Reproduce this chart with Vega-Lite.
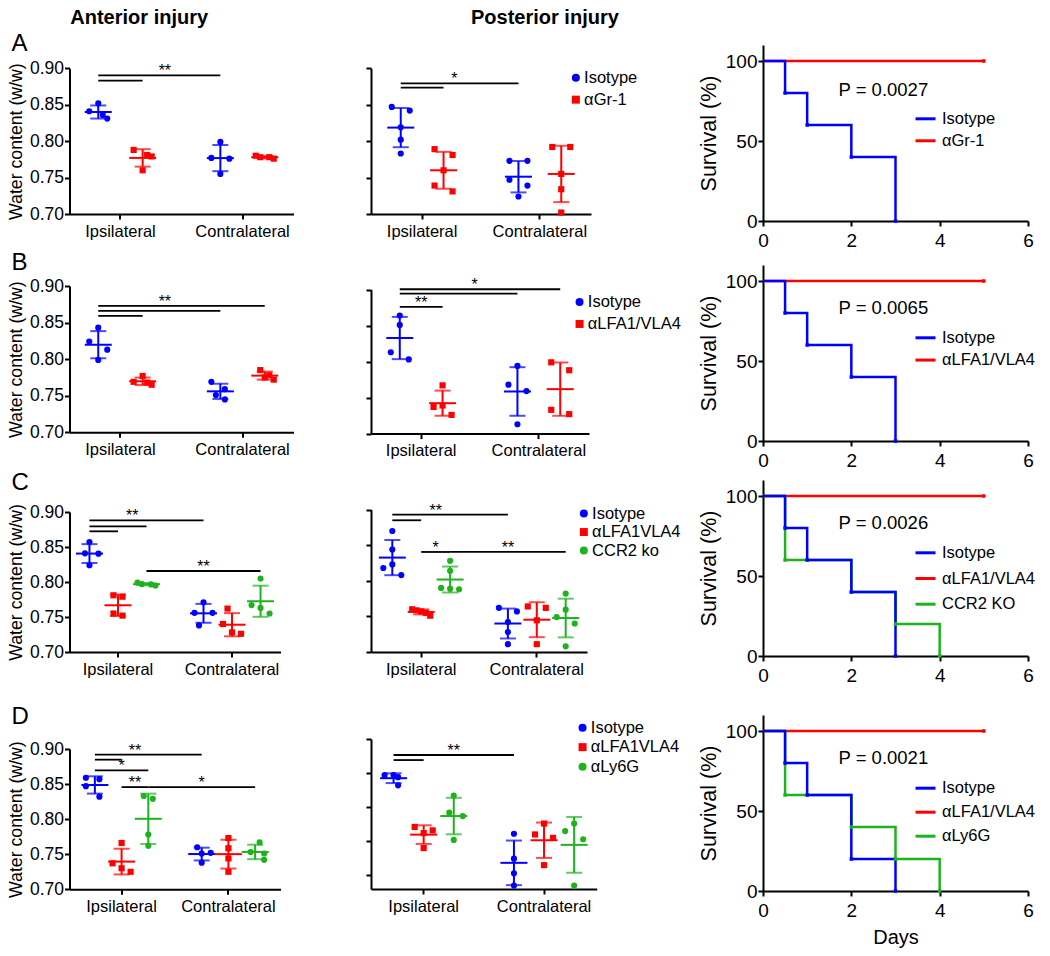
{
"$schema": "https://vega.github.io/schema/vega-lite/v6.json",
"padding": {"left": 6.5, "top": 8, "right": 5, "bottom": 3},
"config": {"font": "Liberation Sans", "view": {"stroke": null},
 "axis": {"domainColor": "black", "domainWidth": 2, "tickColor": "black", "tickWidth": 2, "tickSize": 5, "labelColor": "black", "titleColor": "black", "grid": false, "titleFontWeight": "normal"},
 "legend": {"labelColor": "black"}, "title": {"color": "black"}},
"resolve": {"scale": {"color": "independent", "shape": "independent"}, "legend": {"color": "independent", "shape": "independent"}},
"datasets": {
"pA1": [
{"c":"Ipsilateral|Isotype","g":"Isotype","r":3,"v":0.852},{"c":"Ipsilateral|Isotype","g":"Isotype","r":1,"v":0.841},{"c":"Ipsilateral|Isotype","g":"Isotype","r":4,"v":0.836},{"c":"Ipsilateral|Isotype","g":"Isotype","r":5,"v":0.831},
{"c":"Ipsilateral|αGr-1","g":"αGr-1","r":1,"v":0.788},{"c":"Ipsilateral|αGr-1","g":"αGr-1","r":4,"v":0.781},{"c":"Ipsilateral|αGr-1","g":"αGr-1","r":5,"v":0.779},{"c":"Ipsilateral|αGr-1","g":"αGr-1","r":3,"v":0.760},
{"c":"Contralateral|Isotype","g":"Isotype","r":3,"v":0.799},{"c":"Contralateral|Isotype","g":"Isotype","r":1,"v":0.777},{"c":"Contralateral|Isotype","g":"Isotype","r":5,"v":0.776},{"c":"Contralateral|Isotype","g":"Isotype","r":3,"v":0.755},
{"c":"Contralateral|αGr-1","g":"αGr-1","r":1,"v":0.780},{"c":"Contralateral|αGr-1","g":"αGr-1","r":2,"v":0.778},{"c":"Contralateral|αGr-1","g":"αGr-1","r":4,"v":0.778},{"c":"Contralateral|αGr-1","g":"αGr-1","r":5,"v":0.776}],
"gA1": [
{"from":"Ipsilateral|Isotype","to":"Ipsilateral|αGr-1","lvl":0.883,"label":"","at":"Ipsilateral|Isotype"},
{"from":"Ipsilateral|Isotype","to":"Contralateral|Isotype","lvl":0.8904,"label":"**","at":"·6"}],
"pA2": [
{"c":"Ipsilateral|Isotype","g":"Isotype","r":1,"v":0.847},{"c":"Ipsilateral|Isotype","g":"Isotype","r":5,"v":0.842},{"c":"Ipsilateral|Isotype","g":"Isotype","r":3,"v":0.819},{"c":"Ipsilateral|Isotype","g":"Isotype","r":3,"v":0.802},{"c":"Ipsilateral|Isotype","g":"Isotype","r":3,"v":0.783},
{"c":"Ipsilateral|αGr-1","g":"αGr-1","r":1,"v":0.789},{"c":"Ipsilateral|αGr-1","g":"αGr-1","r":5,"v":0.781},{"c":"Ipsilateral|αGr-1","g":"αGr-1","r":3,"v":0.760},{"c":"Ipsilateral|αGr-1","g":"αGr-1","r":1,"v":0.739},{"c":"Ipsilateral|αGr-1","g":"αGr-1","r":5,"v":0.731},
{"c":"Contralateral|Isotype","g":"Isotype","r":1,"v":0.773},{"c":"Contralateral|Isotype","g":"Isotype","r":5,"v":0.773},{"c":"Contralateral|Isotype","g":"Isotype","r":1,"v":0.747},{"c":"Contralateral|Isotype","g":"Isotype","r":5,"v":0.739},{"c":"Contralateral|Isotype","g":"Isotype","r":3,"v":0.724},
{"c":"Contralateral|αGr-1","g":"αGr-1","r":1,"v":0.792},{"c":"Contralateral|αGr-1","g":"αGr-1","r":5,"v":0.792},{"c":"Contralateral|αGr-1","g":"αGr-1","r":3,"v":0.755},{"c":"Contralateral|αGr-1","g":"αGr-1","r":3,"v":0.734},{"c":"Contralateral|αGr-1","g":"αGr-1","r":3,"v":0.702}],
"gA2": [
{"from":"Ipsilateral|Isotype","to":"Ipsilateral|αGr-1","lvl":0.8735,"label":"","at":"Ipsilateral|Isotype"},
{"from":"Ipsilateral|Isotype","to":"Contralateral|Isotype","lvl":0.8794,"label":"*","at":"·5"}],
"pB1": [
{"c":"Ipsilateral|Isotype","g":"Isotype","r":3,"v":0.843},{"c":"Ipsilateral|Isotype","g":"Isotype","r":1,"v":0.824},{"c":"Ipsilateral|Isotype","g":"Isotype","r":5,"v":0.813},{"c":"Ipsilateral|Isotype","g":"Isotype","r":3,"v":0.799},
{"c":"Ipsilateral|αLFA1/VLA4","g":"αLFA1/VLA4","r":3,"v":0.777},{"c":"Ipsilateral|αLFA1/VLA4","g":"αLFA1/VLA4","r":1,"v":0.769},{"c":"Ipsilateral|αLFA1/VLA4","g":"αLFA1/VLA4","r":4,"v":0.768},{"c":"Ipsilateral|αLFA1/VLA4","g":"αLFA1/VLA4","r":5,"v":0.765},
{"c":"Contralateral|Isotype","g":"Isotype","r":1,"v":0.769},{"c":"Contralateral|Isotype","g":"Isotype","r":4,"v":0.759},{"c":"Contralateral|Isotype","g":"Isotype","r":2,"v":0.751},{"c":"Contralateral|Isotype","g":"Isotype","r":4,"v":0.745},
{"c":"Contralateral|αLFA1/VLA4","g":"αLFA1/VLA4","r":2,"v":0.785},{"c":"Contralateral|αLFA1/VLA4","g":"αLFA1/VLA4","r":4,"v":0.778},{"c":"Contralateral|αLFA1/VLA4","g":"αLFA1/VLA4","r":3,"v":0.775},{"c":"Contralateral|αLFA1/VLA4","g":"αLFA1/VLA4","r":5,"v":0.772}],
"gB1": [
{"from":"Ipsilateral|Isotype","to":"Ipsilateral|αLFA1/VLA4","lvl":0.8591,"label":"","at":"Ipsilateral|Isotype"},
{"from":"Ipsilateral|Isotype","to":"Contralateral|Isotype","lvl":0.8659,"label":"","at":"Ipsilateral|Isotype"},
{"from":"Ipsilateral|Isotype","to":"Contralateral|αLFA1/VLA4","lvl":0.8727,"label":"**","at":"·6"}],
"pB2": [
{"c":"Ipsilateral|Isotype","g":"Isotype","r":3,"v":0.864},{"c":"Ipsilateral|Isotype","g":"Isotype","r":3,"v":0.851},{"c":"Ipsilateral|Isotype","g":"Isotype","r":1,"v":0.813},{"c":"Ipsilateral|Isotype","g":"Isotype","r":5,"v":0.803},
{"c":"Ipsilateral|αLFA1/VLA4","g":"αLFA1/VLA4","r":3,"v":0.767},{"c":"Ipsilateral|αLFA1/VLA4","g":"αLFA1/VLA4","r":1,"v":0.737},{"c":"Ipsilateral|αLFA1/VLA4","g":"αLFA1/VLA4","r":3,"v":0.739},{"c":"Ipsilateral|αLFA1/VLA4","g":"αLFA1/VLA4","r":5,"v":0.726},
{"c":"Contralateral|Isotype","g":"Isotype","r":3,"v":0.794},{"c":"Contralateral|Isotype","g":"Isotype","r":1,"v":0.768},{"c":"Contralateral|Isotype","g":"Isotype","r":5,"v":0.759},{"c":"Contralateral|Isotype","g":"Isotype","r":3,"v":0.713},
{"c":"Contralateral|αLFA1/VLA4","g":"αLFA1/VLA4","r":1,"v":0.799},{"c":"Contralateral|αLFA1/VLA4","g":"αLFA1/VLA4","r":5,"v":0.788},{"c":"Contralateral|αLFA1/VLA4","g":"αLFA1/VLA4","r":1,"v":0.733},{"c":"Contralateral|αLFA1/VLA4","g":"αLFA1/VLA4","r":5,"v":0.727}],
"gB2": [
{"from":"Ipsilateral|Isotype","to":"Ipsilateral|αLFA1/VLA4","lvl":0.8759,"label":"**","at":"Ipsilateral"},
{"from":"Ipsilateral|Isotype","to":"Contralateral|Isotype","lvl":0.8944,"label":"","at":"Ipsilateral|Isotype"},
{"from":"Ipsilateral|Isotype","to":"Contralateral|αLFA1/VLA4","lvl":0.9005,"label":"*","at":"·7"}],
"pC1": [
{"c":"Ipsilateral|Isotype","g":"Isotype","r":3,"v":0.857},{"c":"Ipsilateral|Isotype","g":"Isotype","r":2,"v":0.841},{"c":"Ipsilateral|Isotype","g":"Isotype","r":5,"v":0.8405},{"c":"Ipsilateral|Isotype","g":"Isotype","r":3,"v":0.824},
{"c":"Ipsilateral|αLFA1VLA4","g":"αLFA1VLA4","r":2,"v":0.781},{"c":"Ipsilateral|αLFA1VLA4","g":"αLFA1VLA4","r":4,"v":0.779},{"c":"Ipsilateral|αLFA1VLA4","g":"αLFA1VLA4","r":2,"v":0.755},{"c":"Ipsilateral|αLFA1VLA4","g":"αLFA1VLA4","r":4,"v":0.752},
{"c":"Ipsilateral|CCR2 ko","g":"CCR2 ko","r":1,"v":0.799},{"c":"Ipsilateral|CCR2 ko","g":"CCR2 ko","r":2,"v":0.797},{"c":"Ipsilateral|CCR2 ko","g":"CCR2 ko","r":4,"v":0.7965},{"c":"Ipsilateral|CCR2 ko","g":"CCR2 ko","r":5,"v":0.795},
{"c":"Contralateral|Isotype","g":"Isotype","r":3,"v":0.771},{"c":"Contralateral|Isotype","g":"Isotype","r":1,"v":0.756},{"c":"Contralateral|Isotype","g":"Isotype","r":5,"v":0.756},{"c":"Contralateral|Isotype","g":"Isotype","r":2,"v":0.738},
{"c":"Contralateral|αLFA1VLA4","g":"αLFA1VLA4","r":2,"v":0.762},{"c":"Contralateral|αLFA1VLA4","g":"αLFA1VLA4","r":1,"v":0.740},{"c":"Contralateral|αLFA1VLA4","g":"αLFA1VLA4","r":3,"v":0.728},{"c":"Contralateral|αLFA1VLA4","g":"αLFA1VLA4","r":5,"v":0.726},
{"c":"Contralateral|CCR2 ko","g":"CCR2 ko","r":3,"v":0.805},{"c":"Contralateral|CCR2 ko","g":"CCR2 ko","r":1,"v":0.767},{"c":"Contralateral|CCR2 ko","g":"CCR2 ko","r":3,"v":0.763},{"c":"Contralateral|CCR2 ko","g":"CCR2 ko","r":5,"v":0.755}],
"gC1": [
{"from":"Ipsilateral|Isotype","to":"Ipsilateral|αLFA1VLA4","lvl":0.8724,"label":"","at":"Ipsilateral|Isotype"},
{"from":"Ipsilateral|Isotype","to":"Ipsilateral|CCR2 ko","lvl":0.8795,"label":"","at":"Ipsilateral|Isotype"},
{"from":"Ipsilateral|Isotype","to":"Contralateral|Isotype","lvl":0.8881,"label":"**","at":"·3"},
{"from":"Ipsilateral|CCR2 ko","to":"Contralateral|CCR2 ko","lvl":0.8157,"label":"**","at":"Contralateral|Isotype"}],
"pC2": [
{"c":"Ipsilateral|Isotype","g":"Isotype","r":3,"v":0.870},{"c":"Ipsilateral|Isotype","g":"Isotype","r":3,"v":0.844},{"c":"Ipsilateral|Isotype","g":"Isotype","r":3,"v":0.823},{"c":"Ipsilateral|Isotype","g":"Isotype","r":1,"v":0.818},{"c":"Ipsilateral|Isotype","g":"Isotype","r":5,"v":0.808},
{"c":"Ipsilateral|αLFA1VLA4","g":"αLFA1VLA4","r":1,"v":0.760},{"c":"Ipsilateral|αLFA1VLA4","g":"αLFA1VLA4","r":2,"v":0.7585},{"c":"Ipsilateral|αLFA1VLA4","g":"αLFA1VLA4","r":3,"v":0.757},{"c":"Ipsilateral|αLFA1VLA4","g":"αLFA1VLA4","r":4,"v":0.755},{"c":"Ipsilateral|αLFA1VLA4","g":"αLFA1VLA4","r":5,"v":0.751},
{"c":"Ipsilateral|CCR2 ko","g":"CCR2 ko","r":3,"v":0.828},{"c":"Ipsilateral|CCR2 ko","g":"CCR2 ko","r":3,"v":0.814},{"c":"Ipsilateral|CCR2 ko","g":"CCR2 ko","r":1,"v":0.790},{"c":"Ipsilateral|CCR2 ko","g":"CCR2 ko","r":3,"v":0.789},{"c":"Ipsilateral|CCR2 ko","g":"CCR2 ko","r":5,"v":0.788},
{"c":"Contralateral|Isotype","g":"Isotype","r":1,"v":0.762},{"c":"Contralateral|Isotype","g":"Isotype","r":5,"v":0.757},{"c":"Contralateral|Isotype","g":"Isotype","r":3,"v":0.742},{"c":"Contralateral|Isotype","g":"Isotype","r":3,"v":0.728},{"c":"Contralateral|Isotype","g":"Isotype","r":3,"v":0.711},
{"c":"Contralateral|αLFA1VLA4","g":"αLFA1VLA4","r":1,"v":0.764},{"c":"Contralateral|αLFA1VLA4","g":"αLFA1VLA4","r":5,"v":0.762},{"c":"Contralateral|αLFA1VLA4","g":"αLFA1VLA4","r":3,"v":0.7445},{"c":"Contralateral|αLFA1VLA4","g":"αLFA1VLA4","r":3,"v":0.711},
{"c":"Contralateral|CCR2 ko","g":"CCR2 ko","r":3,"v":0.782},{"c":"Contralateral|CCR2 ko","g":"CCR2 ko","r":3,"v":0.7595},{"c":"Contralateral|CCR2 ko","g":"CCR2 ko","r":1,"v":0.749},{"c":"Contralateral|CCR2 ko","g":"CCR2 ko","r":5,"v":0.740},{"c":"Contralateral|CCR2 ko","g":"CCR2 ko","r":3,"v":0.708}],
"gC2": [
{"from":"Ipsilateral|Isotype","to":"Contralateral|Isotype","lvl":0.893,"label":"**","at":"·3"},
{"from":"Ipsilateral|Isotype","to":"Ipsilateral|αLFA1VLA4","lvl":0.885,"label":"","at":"Ipsilateral|Isotype"},
{"from":"Ipsilateral|αLFA1VLA4","to":"Ipsilateral|CCR2 ko","lvl":0.8405,"label":"*","at":"·3"},
{"from":"Ipsilateral|CCR2 ko","to":"Contralateral|CCR2 ko","lvl":0.8405,"label":"**","at":"Contralateral|Isotype"}],
"pD1": [
{"c":"Ipsilateral|Isotype","g":"Isotype","r":1,"v":0.859},{"c":"Ipsilateral|Isotype","g":"Isotype","r":4,"v":0.857},{"c":"Ipsilateral|Isotype","g":"Isotype","r":1,"v":0.847},{"c":"Ipsilateral|Isotype","g":"Isotype","r":4,"v":0.832},
{"c":"Ipsilateral|αLFA1VLA4","g":"αLFA1VLA4","r":3,"v":0.766},{"c":"Ipsilateral|αLFA1VLA4","g":"αLFA1VLA4","r":1,"v":0.737},{"c":"Ipsilateral|αLFA1VLA4","g":"αLFA1VLA4","r":3,"v":0.730},{"c":"Ipsilateral|αLFA1VLA4","g":"αLFA1VLA4","r":5,"v":0.725},
{"c":"Ipsilateral|αLy6G","g":"αLy6G","r":2,"v":0.833},{"c":"Ipsilateral|αLy6G","g":"αLy6G","r":4,"v":0.829},{"c":"Ipsilateral|αLy6G","g":"αLy6G","r":3,"v":0.778},{"c":"Ipsilateral|αLy6G","g":"αLy6G","r":3,"v":0.762},
{"c":"Contralateral|Isotype","g":"Isotype","r":2,"v":0.760},{"c":"Contralateral|Isotype","g":"Isotype","r":5,"v":0.752},{"c":"Contralateral|Isotype","g":"Isotype","r":3,"v":0.751},{"c":"Contralateral|Isotype","g":"Isotype","r":3,"v":0.738},
{"c":"Contralateral|αLFA1VLA4","g":"αLFA1VLA4","r":3,"v":0.773},{"c":"Contralateral|αLFA1VLA4","g":"αLFA1VLA4","r":3,"v":0.7585},{"c":"Contralateral|αLFA1VLA4","g":"αLFA1VLA4","r":3,"v":0.744},{"c":"Contralateral|αLFA1VLA4","g":"αLFA1VLA4","r":3,"v":0.725},
{"c":"Contralateral|αLy6G","g":"αLy6G","r":4,"v":0.767},{"c":"Contralateral|αLy6G","g":"αLy6G","r":2,"v":0.753},{"c":"Contralateral|αLy6G","g":"αLy6G","r":5,"v":0.751},{"c":"Contralateral|αLy6G","g":"αLy6G","r":5,"v":0.742}],
"gD1": [
{"from":"Ipsilateral|Isotype","to":"Contralateral|Isotype","lvl":0.8919,"label":"**","at":"·3"},
{"from":"Ipsilateral|Isotype","to":"Ipsilateral|αLFA1VLA4","lvl":0.8848,"label":"","at":"Ipsilateral|Isotype"},
{"from":"Ipsilateral|Isotype","to":"Ipsilateral|αLy6G","lvl":0.8695,"label":"*","at":"Ipsilateral|αLFA1VLA4"},
{"from":"Ipsilateral|αLFA1VLA4","to":"Ipsilateral|αLy6G","lvl":0.8457,"label":"**","at":"·3"},
{"from":"Ipsilateral|αLy6G","to":"Contralateral|αLy6G","lvl":0.8457,"label":"*","at":"Contralateral|Isotype"}],
"pD2": [
{"c":"Ipsilateral|Isotype","g":"Isotype","r":1,"v":0.847},{"c":"Ipsilateral|Isotype","g":"Isotype","r":3,"v":0.847},{"c":"Ipsilateral|Isotype","g":"Isotype","r":4,"v":0.844},{"c":"Ipsilateral|Isotype","g":"Isotype","r":4,"v":0.832},
{"c":"Ipsilateral|αLFA1VLA4","g":"αLFA1VLA4","r":1,"v":0.771},{"c":"Ipsilateral|αLFA1VLA4","g":"αLFA1VLA4","r":5,"v":0.766},{"c":"Ipsilateral|αLFA1VLA4","g":"αLFA1VLA4","r":3,"v":0.762},{"c":"Ipsilateral|αLFA1VLA4","g":"αLFA1VLA4","r":3,"v":0.740},
{"c":"Ipsilateral|αLy6G","g":"αLy6G","r":3,"v":0.817},{"c":"Ipsilateral|αLy6G","g":"αLy6G","r":2,"v":0.792},{"c":"Ipsilateral|αLy6G","g":"αLy6G","r":5,"v":0.787},{"c":"Ipsilateral|αLy6G","g":"αLy6G","r":3,"v":0.752},
{"c":"Contralateral|Isotype","g":"Isotype","r":3,"v":0.761},{"c":"Contralateral|Isotype","g":"Isotype","r":3,"v":0.7245},{"c":"Contralateral|Isotype","g":"Isotype","r":3,"v":0.703},{"c":"Contralateral|Isotype","g":"Isotype","r":3,"v":0.685},
{"c":"Contralateral|αLFA1VLA4","g":"αLFA1VLA4","r":3,"v":0.776},{"c":"Contralateral|αLFA1VLA4","g":"αLFA1VLA4","r":1,"v":0.760},{"c":"Contralateral|αLFA1VLA4","g":"αLFA1VLA4","r":5,"v":0.755},{"c":"Contralateral|αLFA1VLA4","g":"αLFA1VLA4","r":3,"v":0.715},
{"c":"Contralateral|αLy6G","g":"αLy6G","r":1,"v":0.765},{"c":"Contralateral|αLy6G","g":"αLy6G","r":3,"v":0.776},{"c":"Contralateral|αLy6G","g":"αLy6G","r":5,"v":0.753},{"c":"Contralateral|αLy6G","g":"αLy6G","r":3,"v":0.685}],
"gD2": [
{"from":"Ipsilateral|Isotype","to":"Ipsilateral|αLFA1VLA4","lvl":0.8691,"label":"","at":"Ipsilateral|Isotype"},
{"from":"Ipsilateral|Isotype","to":"Contralateral|Isotype","lvl":0.8765,"label":"**","at":"Ipsilateral|αLy6G"}],
"kA": [
{"g":"αGr-1","t":0,"s":100},{"g":"αGr-1","t":5,"s":100},
{"g":"Isotype","t":0,"s":100},{"g":"Isotype","t":0.5,"s":80},{"g":"Isotype","t":1,"s":60},{"g":"Isotype","t":2,"s":40},{"g":"Isotype","t":3,"s":0}],
"kB": [
{"g":"αLFA1/VLA4","t":0,"s":100},{"g":"αLFA1/VLA4","t":5,"s":100},
{"g":"Isotype","t":0,"s":100},{"g":"Isotype","t":0.5,"s":80},{"g":"Isotype","t":1,"s":60},{"g":"Isotype","t":2,"s":40},{"g":"Isotype","t":3,"s":0}],
"kC": [
{"g":"αLFA1/VLA4","t":0,"s":100},{"g":"αLFA1/VLA4","t":5,"s":100},
{"g":"CCR2 KO","t":0,"s":100},{"g":"CCR2 KO","t":0.5,"s":60},{"g":"CCR2 KO","t":2,"s":40},{"g":"CCR2 KO","t":3,"s":20},{"g":"CCR2 KO","t":4,"s":0},
{"g":"Isotype","t":0,"s":100},{"g":"Isotype","t":0.5,"s":80},{"g":"Isotype","t":1,"s":60},{"g":"Isotype","t":2,"s":40},{"g":"Isotype","t":3,"s":0}],
"kD": [
{"g":"αLFA1/VLA4","t":0,"s":100},{"g":"αLFA1/VLA4","t":5,"s":100},
{"g":"αLy6G","t":0,"s":100},{"g":"αLy6G","t":0.5,"s":60},{"g":"αLy6G","t":2,"s":40},{"g":"αLy6G","t":3,"s":20},{"g":"αLy6G","t":4,"s":0},
{"g":"Isotype","t":0,"s":100},{"g":"Isotype","t":0.5,"s":80},{"g":"Isotype","t":1,"s":60},{"g":"Isotype","t":2,"s":20},{"g":"Isotype","t":3,"s":0}]
},
"columns": 4,
"align": "each",
"bounds": "flush",
"spacing": {"row": 36, "column": 77.5},
"concat": [
{"width": 224, "height": 169,
 "title": {"text": "A", "anchor": "start", "frame": "group", "dx": -58, "offset": -23, "baseline": "middle", "fontSize": 24, "fontWeight": "normal"},
 "encoding": {
  "x": {"field": "c", "type": "nominal", "scale": {"type": "band", "domain": ["·a","·b","Ipsilateral|Isotype","·1","Ipsilateral","·3","Ipsilateral|αGr-1","·5","·6","·7","·8","·9","·10","Contralateral|Isotype","·12","Contralateral","·14","Contralateral|αGr-1","·y","·z"], "paddingInner": 1, "paddingOuter": 0.59}, "axis": {"values": ["Ipsilateral","Contralateral"], "labelExpr": "split(datum.label, '|')[0]", "labelAngle": 0, "labelFontSize": 16.5, "labelPadding": 4, "title": null}},
  "y": {"field": "v", "type": "quantitative", "scale": {"domain": [0.7, 0.9], "range": [169, 23.3], "nice": false, "zero": false}, "axis": {"values": [0.7, 0.75, 0.8, 0.85, 0.9], "format": ".2f", "labelFontSize": 17.5, "labelPadding": 1, "title": "Water content (w/w)", "titleFontSize": 17.7, "titlePadding": 4}}
 },
 "layer": [
  {"data": {"name": "pA1"}, "mark": {"type": "point", "filled": true, "size": 38, "opacity": 1}, "encoding": {"xOffset": {"field": "r", "type": "quantitative", "scale": {"domain": [1, 5], "range": [-9, 9]}}, "color": {"field": "g", "type": "nominal", "scale": {"domain": ["Isotype","αGr-1"], "range": ["#0000ff","#ff0000"]}, "legend": null}, "shape": {"field": "g", "type": "nominal", "scale": {"domain": ["Isotype","αGr-1"], "range": ["circle","square"]}, "legend": null}}},
  {"data": {"name": "pA1"}, "mark": {"type": "errorbar", "extent": "stdev", "thickness": 2, "ticks": {"size": 16}}, "encoding": {"color": {"field": "g", "type": "nominal", "legend": null}}},
  {"data": {"name": "pA1"}, "mark": {"type": "tick", "size": 27, "thickness": 2}, "encoding": {"y": {"aggregate": "mean", "field": "v", "type": "quantitative"}, "color": {"field": "g", "type": "nominal", "legend": null}}},
  {"data": {"name": "gA1"}, "mark": {"type": "rule", "color": "black", "strokeWidth": 1.8}, "encoding": {"x": {"field": "from", "type": "nominal"}, "x2": {"field": "to"}, "y": {"field": "lvl", "type": "quantitative"}}},
  {"data": {"name": "gA1"}, "mark": {"type": "text", "fontSize": 16, "baseline": "alphabetic", "dy": 1, "color": "black"}, "encoding": {"x": {"field": "at", "type": "nominal"}, "y": {"field": "lvl", "type": "quantitative"}, "text": {"field": "label"}}}
 ]},
{"width": 220, "height": 169,
 "title": {"text": "Posterior injury", "anchor": "start", "frame": "group", "dx": 100, "offset": 7, "baseline": "middle", "fontSize": 20, "fontWeight": "bold"},
 "encoding": {
  "x": {"field": "c", "type": "nominal", "scale": {"type": "band", "domain": ["·a","·b","Ipsilateral|Isotype","·1","Ipsilateral","·3","Ipsilateral|αGr-1","·5","·6","·7","·8","·9","·10","Contralateral|Isotype","·12","Contralateral","·14","Contralateral|αGr-1","·y","·z"], "paddingInner": 1, "paddingOuter": 0.78}, "axis": {"values": ["Ipsilateral","Contralateral"], "labelExpr": "split(datum.label, '|')[0]", "labelAngle": 0, "labelFontSize": 16.5, "labelPadding": 4, "title": null}},
  "y": {"field": "v", "type": "quantitative", "scale": {"domain": [0.7, 0.9], "range": [169, 23.3], "nice": false, "zero": false}, "axis": {"values": [0.7, 0.75, 0.8, 0.85, 0.9], "labels": false, "title": null}}
 },
 "layer": [
  {"data": {"name": "pA2"}, "mark": {"type": "point", "filled": true, "size": 38, "opacity": 1}, "encoding": {"xOffset": {"field": "r", "type": "quantitative", "scale": {"domain": [1, 5], "range": [-9, 9]}}, "color": {"field": "g", "type": "nominal", "scale": {"domain": ["Isotype","αGr-1"], "range": ["#0000ff","#ff0000"]}, "legend": {"orient": "none", "legendX": 196.6, "legendY": 24.4, "title": null, "labelFontSize": 16.5, "symbolSize": 64, "rowPadding": 5, "labelOffset": 0, "symbolStrokeWidth": 0, "padding": 0}}, "shape": {"field": "g", "type": "nominal", "scale": {"domain": ["Isotype","αGr-1"], "range": ["circle","square"]}, "legend": {"orient": "none", "legendX": 196.6, "legendY": 24.4, "title": null, "labelFontSize": 16.5, "symbolSize": 64, "rowPadding": 5, "labelOffset": 0, "symbolStrokeWidth": 0, "padding": 0}}}},
  {"data": {"name": "pA2"}, "mark": {"type": "errorbar", "extent": "stdev", "thickness": 2, "ticks": {"size": 16}}, "encoding": {"color": {"field": "g", "type": "nominal", "legend": null}}},
  {"data": {"name": "pA2"}, "mark": {"type": "tick", "size": 27, "thickness": 2}, "encoding": {"y": {"aggregate": "mean", "field": "v", "type": "quantitative"}, "color": {"field": "g", "type": "nominal", "legend": null}}},
  {"data": {"name": "gA2"}, "mark": {"type": "rule", "color": "black", "strokeWidth": 1.8}, "encoding": {"x": {"field": "from", "type": "nominal"}, "x2": {"field": "to"}, "y": {"field": "lvl", "type": "quantitative"}}},
  {"data": {"name": "gA2"}, "mark": {"type": "text", "fontSize": 16, "baseline": "alphabetic", "dy": 1, "color": "black"}, "encoding": {"x": {"field": "at", "type": "nominal"}, "y": {"field": "lvl", "type": "quantitative"}, "text": {"field": "label"}}}
 ]},
{"width": 10.3, "height": 184, "data": {"values": []}, "mark": "point", "encoding": {},
 "title": {"text": "Anterior injury", "anchor": "start", "frame": "group", "dx": -604.2, "offset": 7, "baseline": "middle", "fontSize": 20, "fontWeight": "bold"}},
{"width": 265, "height": 176,
 "title": {"text": "P = 0.0027", "anchor": "start", "frame": "group", "dx": 75.5, "offset": -63.5, "baseline": "middle", "fontSize": 18.5, "fontWeight": "normal"},
 "data": {"name": "kA"},
 "encoding": {
  "x": {"field": "t", "type": "quantitative", "scale": {"domain": [0, 6], "nice": false, "zero": false}, "axis": {"values": [0, 2, 4, 6], "labelFontSize": 19, "labelPadding": 5, "labelFlush": false, "title": null}},
  "y": {"field": "s", "type": "quantitative", "scale": {"domain": [0, 110], "nice": false}, "axis": {"values": [0, 50, 100], "labelFontSize": 19, "labelPadding": 1, "title": "Survival (%)", "titleFontSize": 21.5, "titlePadding": 5}}
 },
 "layer": [
  {"mark": {"type": "line", "interpolate": "step-after", "strokeWidth": 2.5}, "encoding": {"color": {"field": "g", "type": "nominal", "scale": {"domain": ["Isotype","αGr-1"], "range": ["#0000ff","#ff0000"]}, "legend": {"orient": "none", "legendX": 151, "legendY": 62.3, "title": null, "symbolType": "stroke", "symbolSize": 400, "symbolStrokeWidth": 3, "labelFontSize": 16.5, "rowPadding": 2, "labelOffset": 5, "padding": 0}}}},
  {"transform": [{"filter": "datum.t > 0"}], "mark": {"type": "square", "size": 12, "opacity": 1}, "encoding": {"color": {"field": "g", "type": "nominal", "legend": null}}}
 ]},

{"width": 224, "height": 167.3,
 "title": {"text": "B", "anchor": "start", "frame": "group", "dx": -58, "offset": -22.3, "baseline": "middle", "fontSize": 24, "fontWeight": "normal"},
 "encoding": {
  "x": {"field": "c", "type": "nominal", "scale": {"type": "band", "domain": ["·a","·b","Ipsilateral|Isotype","·1","Ipsilateral","·3","Ipsilateral|αLFA1/VLA4","·5","·6","·7","·8","·9","·10","Contralateral|Isotype","·12","Contralateral","·14","Contralateral|αLFA1/VLA4","·y","·z"], "paddingInner": 1, "paddingOuter": 0.59}, "axis": {"values": ["Ipsilateral","Contralateral"], "labelExpr": "split(datum.label, '|')[0]", "labelAngle": 0, "labelFontSize": 16.5, "labelPadding": 4, "title": null}},
  "y": {"field": "v", "type": "quantitative", "scale": {"domain": [0.7, 0.9], "range": [167.3, 21], "nice": false, "zero": false}, "axis": {"values": [0.7, 0.75, 0.8, 0.85, 0.9], "format": ".2f", "labelFontSize": 17.5, "labelPadding": 1, "title": "Water content (w/w)", "titleFontSize": 17.7, "titlePadding": 4}}
 },
 "layer": [
  {"data": {"name": "pB1"}, "mark": {"type": "point", "filled": true, "size": 38, "opacity": 1}, "encoding": {"xOffset": {"field": "r", "type": "quantitative", "scale": {"domain": [1, 5], "range": [-9, 9]}}, "color": {"field": "g", "type": "nominal", "scale": {"domain": ["Isotype","αLFA1/VLA4"], "range": ["#0000ff","#ff0000"]}, "legend": null}, "shape": {"field": "g", "type": "nominal", "scale": {"domain": ["Isotype","αLFA1/VLA4"], "range": ["circle","square"]}, "legend": null}}},
  {"data": {"name": "pB1"}, "mark": {"type": "errorbar", "extent": "stdev", "thickness": 2, "ticks": {"size": 16}}, "encoding": {"color": {"field": "g", "type": "nominal", "legend": null}}},
  {"data": {"name": "pB1"}, "mark": {"type": "tick", "size": 27, "thickness": 2}, "encoding": {"y": {"aggregate": "mean", "field": "v", "type": "quantitative"}, "color": {"field": "g", "type": "nominal", "legend": null}}},
  {"data": {"name": "gB1"}, "mark": {"type": "rule", "color": "black", "strokeWidth": 1.8}, "encoding": {"x": {"field": "from", "type": "nominal"}, "x2": {"field": "to"}, "y": {"field": "lvl", "type": "quantitative"}}},
  {"data": {"name": "gB1"}, "mark": {"type": "text", "fontSize": 16, "baseline": "alphabetic", "dy": 1, "color": "black"}, "encoding": {"x": {"field": "at", "type": "nominal"}, "y": {"field": "lvl", "type": "quantitative"}, "text": {"field": "label"}}}
 ]},
{"width": 218, "height": 168.6,
 "encoding": {
  "x": {"field": "c", "type": "nominal", "scale": {"type": "band", "domain": ["·a","·b","Ipsilateral|Isotype","·1","Ipsilateral","·3","Ipsilateral|αLFA1/VLA4","·5","·6","·7","·8","·9","·10","Contralateral|Isotype","·12","Contralateral","·14","Contralateral|αLFA1/VLA4","·y","·z"], "paddingInner": 1, "paddingOuter": 0.69}, "axis": {"values": ["Ipsilateral","Contralateral"], "labelExpr": "split(datum.label, '|')[0]", "labelAngle": 0, "labelFontSize": 16.5, "labelPadding": 4, "title": null}},
  "y": {"field": "v", "type": "quantitative", "scale": {"domain": [0.7, 0.9], "range": [168.6, 24.6], "nice": false, "zero": false}, "axis": {"values": [0.7, 0.75, 0.8, 0.85, 0.9], "labels": false, "title": null}}
 },
 "layer": [
  {"data": {"name": "pB2"}, "mark": {"type": "point", "filled": true, "size": 38, "opacity": 1}, "encoding": {"xOffset": {"field": "r", "type": "quantitative", "scale": {"domain": [1, 5], "range": [-9, 9]}}, "color": {"field": "g", "type": "nominal", "scale": {"domain": ["Isotype","αLFA1/VLA4"], "range": ["#0000ff","#ff0000"]}, "legend": {"orient": "none", "legendX": 200.3, "legendY": 28.7, "title": null, "labelFontSize": 16.5, "symbolSize": 64, "rowPadding": 5, "labelOffset": 0, "symbolStrokeWidth": 0, "padding": 0}}, "shape": {"field": "g", "type": "nominal", "scale": {"domain": ["Isotype","αLFA1/VLA4"], "range": ["circle","square"]}, "legend": {"orient": "none", "legendX": 200.3, "legendY": 28.7, "title": null, "labelFontSize": 16.5, "symbolSize": 64, "rowPadding": 5, "labelOffset": 0, "symbolStrokeWidth": 0, "padding": 0}}}},
  {"data": {"name": "pB2"}, "mark": {"type": "errorbar", "extent": "stdev", "thickness": 2, "ticks": {"size": 16}}, "encoding": {"color": {"field": "g", "type": "nominal", "legend": null}}},
  {"data": {"name": "pB2"}, "mark": {"type": "tick", "size": 27, "thickness": 2}, "encoding": {"y": {"aggregate": "mean", "field": "v", "type": "quantitative"}, "color": {"field": "g", "type": "nominal", "legend": null}}},
  {"data": {"name": "gB2"}, "mark": {"type": "rule", "color": "black", "strokeWidth": 1.8}, "encoding": {"x": {"field": "from", "type": "nominal"}, "x2": {"field": "to"}, "y": {"field": "lvl", "type": "quantitative"}}},
  {"data": {"name": "gB2"}, "mark": {"type": "text", "fontSize": 16, "baseline": "alphabetic", "dy": 1, "color": "black"}, "encoding": {"x": {"field": "at", "type": "nominal"}, "y": {"field": "lvl", "type": "quantitative"}, "text": {"field": "label"}}}
 ]},
{"width": 10.3, "height": 179, "data": {"values": []}, "mark": "point", "encoding": {}},
{"width": 265, "height": 176,
 "title": {"text": "P = 0.0065", "anchor": "start", "frame": "group", "dx": 75.5, "offset": -61.1, "baseline": "middle", "fontSize": 18.5, "fontWeight": "normal"},
 "data": {"name": "kB"},
 "encoding": {
  "x": {"field": "t", "type": "quantitative", "scale": {"domain": [0, 6], "nice": false, "zero": false}, "axis": {"values": [0, 2, 4, 6], "labelFontSize": 19, "labelPadding": 5, "labelFlush": false, "title": null}},
  "y": {"field": "s", "type": "quantitative", "scale": {"domain": [0, 110], "nice": false}, "axis": {"values": [0, 50, 100], "labelFontSize": 19, "labelPadding": 1, "title": "Survival (%)", "titleFontSize": 21.5, "titlePadding": 5}}
 },
 "layer": [
  {"mark": {"type": "line", "interpolate": "step-after", "strokeWidth": 2.5}, "encoding": {"color": {"field": "g", "type": "nominal", "scale": {"domain": ["Isotype","αLFA1/VLA4"], "range": ["#0000ff","#ff0000"]}, "legend": {"orient": "none", "legendX": 151, "legendY": 61.3, "title": null, "symbolType": "stroke", "symbolSize": 400, "symbolStrokeWidth": 3, "labelFontSize": 16.5, "rowPadding": 2.3, "labelOffset": 5, "padding": 0}}}},
  {"transform": [{"filter": "datum.t > 0"}], "mark": {"type": "square", "size": 12, "opacity": 1}, "encoding": {"color": {"field": "g", "type": "nominal", "legend": null}}}
 ]},

{"width": 211, "height": 172,
 "title": {"text": "C", "anchor": "start", "frame": "group", "dx": -58, "offset": -27.3, "baseline": "middle", "fontSize": 24, "fontWeight": "normal"},
 "encoding": {
  "x": {"field": "c", "type": "nominal", "scale": {"type": "band", "domain": ["·a","Ipsilateral|Isotype","·1","Ipsilateral|αLFA1VLA4","·3","Ipsilateral|CCR2 ko","·5","·6","·7","Contralateral|Isotype","·9","Contralateral|αLFA1VLA4","·11","Contralateral|CCR2 ko","·z"], "paddingInner": 1, "paddingOuter": 0.4}, "axis": {"values": ["Ipsilateral|αLFA1VLA4","Contralateral|αLFA1VLA4"], "labelExpr": "split(datum.label, '|')[0]", "labelAngle": 0, "labelFontSize": 16.5, "labelPadding": 4, "title": null}},
  "y": {"field": "v", "type": "quantitative", "scale": {"domain": [0.7, 0.9], "range": [172, 32], "nice": false, "zero": false}, "axis": {"values": [0.7, 0.75, 0.8, 0.85, 0.9], "format": ".2f", "labelFontSize": 17.5, "labelPadding": 1, "title": "Water content (w/w)", "titleFontSize": 17.7, "titlePadding": 4}}
 },
 "layer": [
  {"data": {"name": "pC1"}, "mark": {"type": "point", "filled": true, "size": 38, "opacity": 1}, "encoding": {"xOffset": {"field": "r", "type": "quantitative", "scale": {"domain": [1, 5], "range": [-9, 9]}}, "color": {"field": "g", "type": "nominal", "scale": {"domain": ["Isotype","αLFA1VLA4","CCR2 ko"], "range": ["#0000ff","#ff0000","#1db31d"]}, "legend": null}, "shape": {"field": "g", "type": "nominal", "scale": {"domain": ["Isotype","αLFA1VLA4","CCR2 ko"], "range": ["circle","square","circle"]}, "legend": null}}},
  {"data": {"name": "pC1"}, "mark": {"type": "errorbar", "extent": "stdev", "thickness": 2, "ticks": {"size": 16}}, "encoding": {"color": {"field": "g", "type": "nominal", "legend": null}}},
  {"data": {"name": "pC1"}, "mark": {"type": "tick", "size": 27, "thickness": 2}, "encoding": {"y": {"aggregate": "mean", "field": "v", "type": "quantitative"}, "color": {"field": "g", "type": "nominal", "legend": null}}},
  {"data": {"name": "gC1"}, "mark": {"type": "rule", "color": "black", "strokeWidth": 1.8}, "encoding": {"x": {"field": "from", "type": "nominal"}, "x2": {"field": "to"}, "y": {"field": "lvl", "type": "quantitative"}}},
  {"data": {"name": "gC1"}, "mark": {"type": "text", "fontSize": 16, "baseline": "alphabetic", "dy": 1, "color": "black"}, "encoding": {"x": {"field": "at", "type": "nominal"}, "y": {"field": "lvl", "type": "quantitative"}, "text": {"field": "label"}}}
 ]},
{"width": 216, "height": 172,
 "encoding": {
  "x": {"field": "c", "type": "nominal", "scale": {"type": "band", "domain": ["·a","Ipsilateral|Isotype","·1","Ipsilateral|αLFA1VLA4","·3","Ipsilateral|CCR2 ko","·5","·6","·7","Contralateral|Isotype","·9","Contralateral|αLFA1VLA4","·11","Contralateral|CCR2 ko","·z"], "paddingInner": 1, "paddingOuter": 0.475}, "axis": {"values": ["Ipsilateral|αLFA1VLA4","Contralateral|αLFA1VLA4"], "labelExpr": "split(datum.label, '|')[0]", "labelAngle": 0, "labelFontSize": 16.5, "labelPadding": 4, "title": null}},
  "y": {"field": "v", "type": "quantitative", "scale": {"domain": [0.7, 0.9], "range": [172, 29.6], "nice": false, "zero": false}, "axis": {"values": [0.7, 0.75, 0.8, 0.85, 0.9], "labels": false, "title": null}}
 },
 "layer": [
  {"data": {"name": "pC2"}, "mark": {"type": "point", "filled": true, "size": 38, "opacity": 1}, "encoding": {"xOffset": {"field": "r", "type": "quantitative", "scale": {"domain": [1, 5], "range": [-9, 9]}}, "color": {"field": "g", "type": "nominal", "scale": {"domain": ["Isotype","αLFA1VLA4","CCR2 ko"], "range": ["#0000ff","#ff0000","#1db31d"]}, "legend": {"orient": "none", "legendX": 204.6, "legendY": 25.3, "title": null, "labelFontSize": 16.5, "symbolSize": 64, "rowPadding": 1.5, "labelOffset": 0, "symbolStrokeWidth": 0, "padding": 0}}, "shape": {"field": "g", "type": "nominal", "scale": {"domain": ["Isotype","αLFA1VLA4","CCR2 ko"], "range": ["circle","square","circle"]}, "legend": {"orient": "none", "legendX": 204.6, "legendY": 25.3, "title": null, "labelFontSize": 16.5, "symbolSize": 64, "rowPadding": 1.5, "labelOffset": 0, "symbolStrokeWidth": 0, "padding": 0}}}},
  {"data": {"name": "pC2"}, "mark": {"type": "errorbar", "extent": "stdev", "thickness": 2, "ticks": {"size": 16}}, "encoding": {"color": {"field": "g", "type": "nominal", "legend": null}}},
  {"data": {"name": "pC2"}, "mark": {"type": "tick", "size": 27, "thickness": 2}, "encoding": {"y": {"aggregate": "mean", "field": "v", "type": "quantitative"}, "color": {"field": "g", "type": "nominal", "legend": null}}},
  {"data": {"name": "gC2"}, "mark": {"type": "rule", "color": "black", "strokeWidth": 1.8}, "encoding": {"x": {"field": "from", "type": "nominal"}, "x2": {"field": "to"}, "y": {"field": "lvl", "type": "quantitative"}}},
  {"data": {"name": "gC2"}, "mark": {"type": "text", "fontSize": 16, "baseline": "alphabetic", "dy": 1, "color": "black"}, "encoding": {"x": {"field": "at", "type": "nominal"}, "y": {"field": "lvl", "type": "quantitative"}, "text": {"field": "label"}}}
 ]},
{"width": 10.3, "height": 199, "data": {"values": []}, "mark": "point", "encoding": {}},
{"width": 265, "height": 176,
 "title": {"text": "P = 0.0026", "anchor": "start", "frame": "group", "dx": 75.5, "offset": -61.8, "baseline": "middle", "fontSize": 18.5, "fontWeight": "normal"},
 "data": {"name": "kC"},
 "encoding": {
  "x": {"field": "t", "type": "quantitative", "scale": {"domain": [0, 6], "nice": false, "zero": false}, "axis": {"values": [0, 2, 4, 6], "labelFontSize": 19, "labelPadding": 5, "labelFlush": false, "title": null}},
  "y": {"field": "s", "type": "quantitative", "scale": {"domain": [0, 110], "nice": false}, "axis": {"values": [0, 50, 100], "labelFontSize": 19, "labelPadding": 1, "title": "Survival (%)", "titleFontSize": 21.5, "titlePadding": 5}}
 },
 "layer": [
  {"mark": {"type": "line", "interpolate": "step-after", "strokeWidth": 2.5}, "encoding": {"color": {"field": "g", "type": "nominal", "scale": {"domain": ["Isotype","αLFA1/VLA4","CCR2 KO"], "range": ["#0000ff","#ff0000","#1db31d"]}, "legend": {"orient": "none", "legendX": 151, "legendY": 61.3, "title": null, "symbolType": "stroke", "symbolSize": 400, "symbolStrokeWidth": 3, "labelFontSize": 16.5, "rowPadding": 5.7, "labelOffset": 5, "padding": 0}}}},
  {"transform": [{"filter": "datum.t > 0"}], "mark": {"type": "square", "size": 12, "opacity": 1}, "encoding": {"color": {"field": "g", "type": "nominal", "legend": null}}}
 ]},

{"width": 211, "height": 174.3,
 "title": {"text": "D", "anchor": "start", "frame": "group", "dx": -58, "offset": -25.7, "baseline": "middle", "fontSize": 24, "fontWeight": "normal"},
 "encoding": {
  "x": {"field": "c", "type": "nominal", "scale": {"type": "band", "domain": ["·a","Ipsilateral|Isotype","·1","Ipsilateral|αLFA1VLA4","·3","Ipsilateral|αLy6G","·5","·6","·7","Contralateral|Isotype","·9","Contralateral|αLFA1VLA4","·11","Contralateral|αLy6G","·z"], "paddingInner": 1, "paddingOuter": 0.9}, "axis": {"values": ["Ipsilateral|αLFA1VLA4","Contralateral|αLFA1VLA4"], "labelExpr": "split(datum.label, '|')[0]", "labelAngle": 0, "labelFontSize": 16.5, "labelPadding": 4, "title": null}},
  "y": {"field": "v", "type": "quantitative", "scale": {"domain": [0.7, 0.9], "range": [174.3, 34], "nice": false, "zero": false}, "axis": {"values": [0.7, 0.75, 0.8, 0.85, 0.9], "format": ".2f", "labelFontSize": 17.5, "labelPadding": 1, "title": "Water content (w/w)", "titleFontSize": 17.7, "titlePadding": 4}}
 },
 "layer": [
  {"data": {"name": "pD1"}, "mark": {"type": "point", "filled": true, "size": 38, "opacity": 1}, "encoding": {"xOffset": {"field": "r", "type": "quantitative", "scale": {"domain": [1, 5], "range": [-9, 9]}}, "color": {"field": "g", "type": "nominal", "scale": {"domain": ["Isotype","αLFA1VLA4","αLy6G"], "range": ["#0000ff","#ff0000","#1db31d"]}, "legend": null}, "shape": {"field": "g", "type": "nominal", "scale": {"domain": ["Isotype","αLFA1VLA4","αLy6G"], "range": ["circle","square","circle"]}, "legend": null}}},
  {"data": {"name": "pD1"}, "mark": {"type": "errorbar", "extent": "stdev", "thickness": 2, "ticks": {"size": 16}}, "encoding": {"color": {"field": "g", "type": "nominal", "legend": null}}},
  {"data": {"name": "pD1"}, "mark": {"type": "tick", "size": 27, "thickness": 2}, "encoding": {"y": {"aggregate": "mean", "field": "v", "type": "quantitative"}, "color": {"field": "g", "type": "nominal", "legend": null}}},
  {"data": {"name": "gD1"}, "mark": {"type": "rule", "color": "black", "strokeWidth": 1.8}, "encoding": {"x": {"field": "from", "type": "nominal"}, "x2": {"field": "to"}, "y": {"field": "lvl", "type": "quantitative"}}},
  {"data": {"name": "gD1"}, "mark": {"type": "text", "fontSize": 16, "baseline": "alphabetic", "dy": 1, "color": "black"}, "encoding": {"x": {"field": "at", "type": "nominal"}, "y": {"field": "lvl", "type": "quantitative"}, "text": {"field": "label"}}}
 ]},
{"width": 225.7, "height": 174,
 "encoding": {
  "x": {"field": "c", "type": "nominal", "scale": {"type": "band", "domain": ["·a","Ipsilateral|Isotype","·1","Ipsilateral|αLFA1VLA4","·3","Ipsilateral|αLy6G","·5","·6","·7","Contralateral|Isotype","·9","Contralateral|αLFA1VLA4","·11","Contralateral|αLy6G","·z"], "paddingInner": 1, "paddingOuter": 0.5}, "axis": {"values": ["Ipsilateral|αLFA1VLA4","Contralateral|αLFA1VLA4"], "labelExpr": "split(datum.label, '|')[0]", "labelAngle": 0, "labelFontSize": 16.5, "labelPadding": 4, "title": null}},
  "y": {"field": "v", "type": "quantitative", "scale": {"domain": [0.68, 0.9], "range": [174, 24], "nice": false, "zero": false}, "axis": {"values": [0.7, 0.75, 0.8, 0.85, 0.9], "labels": false, "title": null}}
 },
 "layer": [
  {"data": {"name": "pD2"}, "mark": {"type": "point", "filled": true, "size": 38, "opacity": 1}, "encoding": {"xOffset": {"field": "r", "type": "quantitative", "scale": {"domain": [1, 5], "range": [-9, 9]}}, "color": {"field": "g", "type": "nominal", "scale": {"domain": ["Isotype","αLFA1VLA4","αLy6G"], "range": ["#0000ff","#ff0000","#1db31d"]}, "legend": {"orient": "none", "legendX": 203.3, "legendY": 4.4, "title": null, "labelFontSize": 16.5, "symbolSize": 64, "rowPadding": 2.5, "labelOffset": 0, "symbolStrokeWidth": 0, "padding": 0}}, "shape": {"field": "g", "type": "nominal", "scale": {"domain": ["Isotype","αLFA1VLA4","αLy6G"], "range": ["circle","square","circle"]}, "legend": {"orient": "none", "legendX": 203.3, "legendY": 4.4, "title": null, "labelFontSize": 16.5, "symbolSize": 64, "rowPadding": 2.5, "labelOffset": 0, "symbolStrokeWidth": 0, "padding": 0}}}},
  {"data": {"name": "pD2"}, "mark": {"type": "errorbar", "extent": "stdev", "thickness": 2, "ticks": {"size": 16}}, "encoding": {"color": {"field": "g", "type": "nominal", "legend": null}}},
  {"data": {"name": "pD2"}, "mark": {"type": "tick", "size": 27, "thickness": 2}, "encoding": {"y": {"aggregate": "mean", "field": "v", "type": "quantitative"}, "color": {"field": "g", "type": "nominal", "legend": null}}},
  {"data": {"name": "gD2"}, "mark": {"type": "rule", "color": "black", "strokeWidth": 1.8}, "encoding": {"x": {"field": "from", "type": "nominal"}, "x2": {"field": "to"}, "y": {"field": "lvl", "type": "quantitative"}}},
  {"data": {"name": "gD2"}, "mark": {"type": "text", "fontSize": 16, "baseline": "alphabetic", "dy": 1, "color": "black"}, "encoding": {"x": {"field": "at", "type": "nominal"}, "y": {"field": "lvl", "type": "quantitative"}, "text": {"field": "label"}}}
 ]},
{"width": 10.3, "height": 176, "data": {"values": []}, "mark": "point", "encoding": {}},
{"width": 265, "height": 176,
 "title": {"text": "P = 0.0021", "anchor": "start", "frame": "group", "dx": 75.5, "offset": -61.2, "baseline": "middle", "fontSize": 18.5, "fontWeight": "normal"},
 "data": {"name": "kD"},
 "encoding": {
  "x": {"field": "t", "type": "quantitative", "scale": {"domain": [0, 6], "nice": false, "zero": false}, "axis": {"values": [0, 2, 4, 6], "labelFontSize": 19, "labelPadding": 5, "labelFlush": false, "title": "Days", "titleFontSize": 20, "titlePadding": 7}},
  "y": {"field": "s", "type": "quantitative", "scale": {"domain": [0, 110], "nice": false}, "axis": {"values": [0, 50, 100], "labelFontSize": 19, "labelPadding": 1, "title": "Survival (%)", "titleFontSize": 21.5, "titlePadding": 5}}
 },
 "layer": [
  {"mark": {"type": "line", "interpolate": "step-after", "strokeWidth": 2.5}, "encoding": {"color": {"field": "g", "type": "nominal", "scale": {"domain": ["Isotype","αLFA1/VLA4","αLy6G"], "range": ["#0000ff","#ff0000","#1db31d"]}, "legend": {"orient": "none", "legendX": 151, "legendY": 61.7, "title": null, "symbolType": "stroke", "symbolSize": 400, "symbolStrokeWidth": 3, "labelFontSize": 16.5, "rowPadding": 4, "labelOffset": 5, "padding": 0}}}},
  {"transform": [{"filter": "datum.t > 0"}], "mark": {"type": "square", "size": 12, "opacity": 1}, "encoding": {"color": {"field": "g", "type": "nominal", "legend": null}}}
 ]}
]
}
